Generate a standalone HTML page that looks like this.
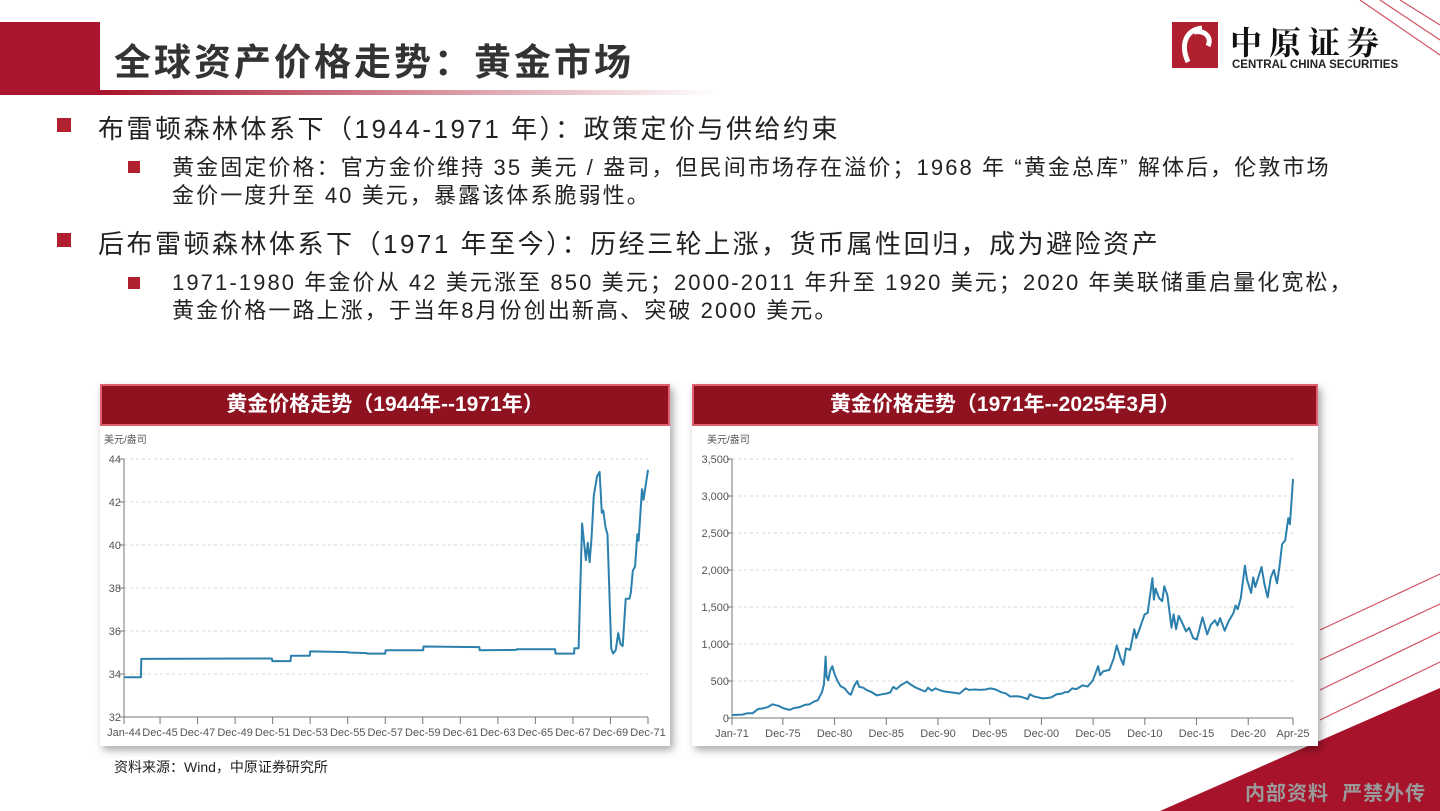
<!DOCTYPE html>
<html><head><meta charset="utf-8">
<style>
*{margin:0;padding:0;box-sizing:border-box}
body{width:1440px;height:811px;overflow:hidden;background:#fff;position:relative;font-family:"Liberation Sans","Noto Sans CJK SC",sans-serif;color:#222}
.abs{position:absolute}
.t1{font-size:26px;letter-spacing:2.5px;white-space:nowrap;color:#222}
.t2{font-size:22px;letter-spacing:2.1px;white-space:nowrap;color:#222;line-height:28px}
.sq1{width:14px;height:14px;background:#b0202f}
.sq2{width:12px;height:12px;background:#b0202f}
.hdr{background:#8f1221;color:#fff;font-weight:bold;font-size:21px;text-align:center;line-height:38px;border:2px solid #e0606f}
.card{background:#fff;box-shadow:3px 4px 8px rgba(0,0,0,0.35)}
</style></head><body>
<svg class="abs" style="left:0;top:0" width="1440" height="811">
  <defs><linearGradient id="ul" x1="0" x2="1"><stop offset="0" stop-color="#a8132c"/><stop offset="1" stop-color="#a8132c" stop-opacity="0"/></linearGradient></defs>
  <rect x="100" y="90" width="620" height="5" fill="url(#ul)"/>
  <g stroke="#c8283f" stroke-width="1.2" fill="none" opacity="0.8">
    <line x1="1280" y1="811" x2="1440" y2="735"/>
    <line x1="1200" y1="811" x2="1440" y2="700"/>
    <line x1="1320" y1="720" x2="1440" y2="662"/>
    <line x1="1320" y1="690" x2="1440" y2="632"/>
    <line x1="1320" y1="660" x2="1440" y2="604"/>
    <line x1="1320" y1="630" x2="1440" y2="574"/>
    <line x1="1380" y1="0" x2="1440" y2="40"/>
    <line x1="1400" y1="0" x2="1440" y2="25"/>
    <line x1="1360" y1="0" x2="1440" y2="55"/>
  </g>
  <polygon points="1160,811 1440,688 1440,811" fill="#a8132c"/>
</svg>
<div class="abs" style="left:0;top:22px;width:100px;height:73px;background:#ab1530"></div>
<div class="abs" style="left:114px;top:32px;font-size:37px;letter-spacing:3px;font-weight:bold;color:#333;white-space:nowrap">全球资产价格走势：黄金市场</div>

<div class="abs" style="left:1172px;top:22px;width:240px;height:50px">
  <svg class="abs" style="left:0;top:0" width="46" height="46"><rect width="46" height="46" fill="#b0202f"/><path d="M30 6 C14 8 8 22 16 40 M22 10 C34 8 40 16 36 24" stroke="#fff" stroke-width="5" fill="none"/></svg>
  <div class="abs" style="left:58px;top:-4px;font-size:32px;font-family:'Noto Serif CJK SC',serif;font-weight:bold;letter-spacing:7px;white-space:nowrap;color:#111">中原证券</div>
  <div class="abs" style="left:60px;top:37px;font-size:11.5px;font-weight:bold;white-space:nowrap;color:#222">CENTRAL CHINA SECURITIES</div>
</div>

<div class="abs sq1" style="left:57px;top:118px"></div>
<div class="abs t1" style="left:98px;top:109px">布雷顿森林体系下（1944-1971 年）：政策定价与供给约束</div>
<div class="abs sq2" style="left:128px;top:161px"></div>
<div class="abs t2" style="left:172px;top:154px">黄金固定价格：官方金价维持 35 美元 / 盎司，但民间市场存在溢价；1968 年 “黄金总库” 解体后，伦敦市场<br>金价一度升至 40 美元，暴露该体系脆弱性。</div>
<div class="abs sq1" style="left:57px;top:233px"></div>
<div class="abs t1" style="left:98px;top:224px">后布雷顿森林体系下（1971 年至今）：历经三轮上涨，货币属性回归，成为避险资产</div>
<div class="abs sq2" style="left:128px;top:277px"></div>
<div class="abs t2" style="left:172px;top:269px">1971-1980 年金价从 42 美元涨至 850 美元；2000-2011 年升至 1920 美元；2020 年美联储重启量化宽松，<br>黄金价格一路上涨，于当年8月份创出新高、突破 2000 美元。</div>

<div class="abs card" style="left:100px;top:384px;width:570px;height:362px"></div>
<div class="abs hdr" style="left:100px;top:384px;width:570px;height:42px">黄金价格走势（1944年--1971年）</div>
<div class="abs card" style="left:692px;top:384px;width:626px;height:362px"></div>
<div class="abs hdr" style="left:692px;top:384px;width:626px;height:42px">黄金价格走势（1971年--2025年3月）</div>

<svg id="c1" class="abs" style="left:0;top:0" width="1440" height="811"></svg>
<svg id="c2" class="abs" style="left:0;top:0" width="1440" height="811"></svg>

<div class="abs" style="left:114px;top:757px;font-size:14px;white-space:nowrap">资料来源：Wind，中原证券研究所</div>
<div class="abs" style="left:1245px;top:777px;font-size:20px;font-weight:bold;color:#9a9a9a;white-space:nowrap;letter-spacing:1px">内部资料&nbsp;&nbsp;严禁外传</div>

<script>
const leftDates=[1944.0,1944.9,1944.92,1951.88,1951.9,1952.87,1952.9,1953.9,1953.92,1955.94,1955.96,1956.93,1956.95,1957.92,1957.94,1959.94,1959.96,1962.93,1962.95,1964.9,1964.92,1966.97,1966.99,1967.98,1968.0,1968.22,1968.41,1968.61,1968.71,1968.81,1968.91,1969.03,1969.21,1969.34,1969.46,1969.54,1969.66,1969.76,1969.96,1970.06,1970.2,1970.33,1970.45,1970.57,1970.73,1970.93,1971.01,1971.11,1971.23,1971.35,1971.42,1971.6,1971.68,1971.92];
const leftValues=[33.85,33.85,34.7,34.72,34.6,34.6,34.85,34.85,35.05,35.02,35.0,34.97,34.95,34.95,35.1,35.1,35.28,35.25,35.1,35.12,35.15,35.15,34.95,34.95,35.2,35.2,41.0,39.3,40.1,39.2,40.3,42.3,43.2,43.4,41.5,41.6,40.8,40.5,35.2,34.95,35.1,35.9,35.4,35.3,37.5,37.5,37.8,38.8,39.0,40.5,40.2,42.6,42.1,43.5];
const leftYTicks=[32,34,36,38,40,42,44];
const leftXTicks=[1944.0,1945.92,1947.92,1949.92,1951.92,1953.92,1955.92,1957.92,1959.92,1961.92,1963.92,1965.92,1967.92,1969.92,1971.92];
const leftXLabels=["Jan-44","Dec-45","Dec-47","Dec-49","Dec-51","Dec-53","Dec-55","Dec-57","Dec-59","Dec-61","Dec-63","Dec-65","Dec-67","Dec-69","Dec-71"];

const rightDates=[1971.0,1972.0,1972.5,1973.0,1973.5,1974.0,1974.5,1974.9,1975.5,1976.0,1976.6,1977.0,1977.5,1978.0,1978.5,1978.9,1979.3,1979.7,1979.9,1980.05,1980.15,1980.3,1980.5,1980.7,1980.9,1981.2,1981.5,1981.9,1982.3,1982.5,1982.8,1983.1,1983.3,1983.7,1984.0,1984.5,1985.0,1985.5,1985.9,1986.3,1986.6,1986.9,1987.3,1987.9,1988.3,1988.8,1989.3,1989.7,1989.95,1990.3,1990.7,1991.0,1991.5,1992.0,1992.5,1993.0,1993.6,1993.9,1994.5,1995.0,1995.5,1996.0,1996.5,1997.0,1997.5,1997.9,1998.5,1999.0,1999.6,1999.8,2000.2,2000.6,2001.0,2001.5,2001.9,2002.4,2002.9,2003.2,2003.5,2003.9,2004.3,2004.9,2005.4,2005.9,2006.4,2006.6,2006.9,2007.5,2007.9,2008.2,2008.6,2008.85,2009.1,2009.5,2009.9,2010.1,2010.5,2010.9,2011.2,2011.65,2011.8,2011.95,2012.3,2012.6,2012.8,2013.1,2013.5,2013.7,2013.95,2014.2,2014.5,2014.9,2015.2,2015.6,2015.95,2016.5,2016.95,2017.3,2017.7,2017.95,2018.2,2018.65,2019.0,2019.5,2019.7,2019.9,2020.2,2020.6,2020.8,2021.2,2021.4,2021.6,2022.2,2022.5,2022.8,2023.1,2023.4,2023.7,2023.95,2024.2,2024.5,2024.8,2024.95,2025.1,2025.25];
const rightValues=[40,46,65,65,120,130,150,185,165,130,110,135,145,175,185,220,240,350,460,830,560,510,640,700,600,500,430,400,330,315,430,500,420,410,380,350,305,320,330,345,420,390,440,490,450,410,380,360,410,370,400,380,360,350,340,330,400,380,385,380,385,400,385,350,330,290,295,285,255,320,290,280,265,270,280,320,330,350,350,400,390,440,425,510,700,580,630,650,800,980,800,720,940,920,1200,1080,1240,1400,1420,1890,1600,1750,1620,1580,1780,1660,1220,1400,1200,1380,1300,1170,1220,1080,1060,1360,1130,1260,1320,1250,1350,1180,1300,1420,1520,1470,1620,2060,1870,1690,1900,1770,2040,1800,1630,1900,2000,1820,2060,2350,2400,2700,2620,2900,3230];
const rightYTicks=[0,500,1000,1500,2000,2500,3000,3500];
const rightXTicks=[1971.0,1975.92,1980.92,1985.92,1990.92,1995.92,2000.92,2005.92,2010.92,2015.92,2020.92,2025.25];
const rightXLabels=["Jan-71","Dec-75","Dec-80","Dec-85","Dec-90","Dec-95","Dec-00","Dec-05","Dec-10","Dec-15","Dec-20","Apr-25"];

const NS="http://www.w3.org/2000/svg";
function mk(svg,tag,attrs){const e=document.createElementNS(NS,tag);for(const k in attrs)e.setAttribute(k,attrs[k]);svg.appendChild(e);return e;}

function drawChart(svgId,cfg){
  const svg=document.getElementById(svgId);
  const xs=v=>cfg.x0+(v-cfg.d0)/(cfg.d1-cfg.d0)*(cfg.x1-cfg.x0);
  const ys=v=>cfg.yb+(v-cfg.v0)/(cfg.v1-cfg.v0)*(cfg.yt-cfg.yb);
  const u=mk(svg,'text',{x:cfg.unitX,y:cfg.yt-16,'font-size':10,fill:'#555','font-family':'"Liberation Sans","Noto Sans CJK SC",sans-serif'});
  u.textContent='美元/盎司';
  
  
  cfg.yTicks.forEach(t=>{
    const y=ys(t);
    if(t!==cfg.v0){const g=mk(svg,'line',{x1:cfg.x0,x2:cfg.x1,y1:y,y2:y,stroke:'#d8d8d8','stroke-dasharray':'3,3'});
    
    }
    mk(svg,'line',{x1:cfg.x0-5,x2:cfg.x0,y1:y,y2:y,stroke:'#777'});
    const tx=mk(svg,'text',{x:cfg.x0-3,y:y+4,'font-size':11,fill:'#555','text-anchor':'end','font-family':'"Liberation Sans",sans-serif'});
    tx.textContent=cfg.fmt(t);
    
    
  });
  mk(svg,'line',{x1:cfg.x0,x2:cfg.x0,y1:cfg.yt,y2:cfg.yb,stroke:'#777'});
  mk(svg,'line',{x1:cfg.x0,x2:cfg.x1,y1:cfg.yb,y2:cfg.yb,stroke:'#777'});
  cfg.xTicks.forEach((t,i)=>{
    const x=xs(t);
    mk(svg,'line',{x1:x,x2:x,y1:cfg.yb,y2:cfg.yb+7,stroke:'#777'});
    const tx=mk(svg,'text',{x:x,y:cfg.yb+19,'font-size':11,fill:'#555','text-anchor':'middle','font-family':'"Liberation Sans",sans-serif'});
    tx.textContent=cfg.xLabels[i];
    
    
  });
  const pts=cfg.dates.map((d,i)=>xs(d).toFixed(1)+','+ys(cfg.values[i]).toFixed(1)).join(' ');
  const pl=mk(svg,'polyline',{points:pts,fill:'none',stroke:'#2b80ad','stroke-width':2,'stroke-linejoin':'round'});
  
  
}
drawChart('c1',{x0:124,x1:648,yt:459,yb:717,d0:1944.0,d1:1971.92,v0:32,v1:44,unitX:104,
  yTicks:leftYTicks,xTicks:leftXTicks,xLabels:leftXLabels,dates:leftDates,values:leftValues,fmt:t=>String(t)});
drawChart('c2',{x0:732,x1:1293,yt:459,yb:718,d0:1971.0,d1:2025.25,v0:0,v1:3500,unitX:707,
  yTicks:rightYTicks,xTicks:rightXTicks,xLabels:rightXLabels,dates:rightDates,values:rightValues,fmt:t=>t.toLocaleString('en-US')});
</script>
</body></html>
